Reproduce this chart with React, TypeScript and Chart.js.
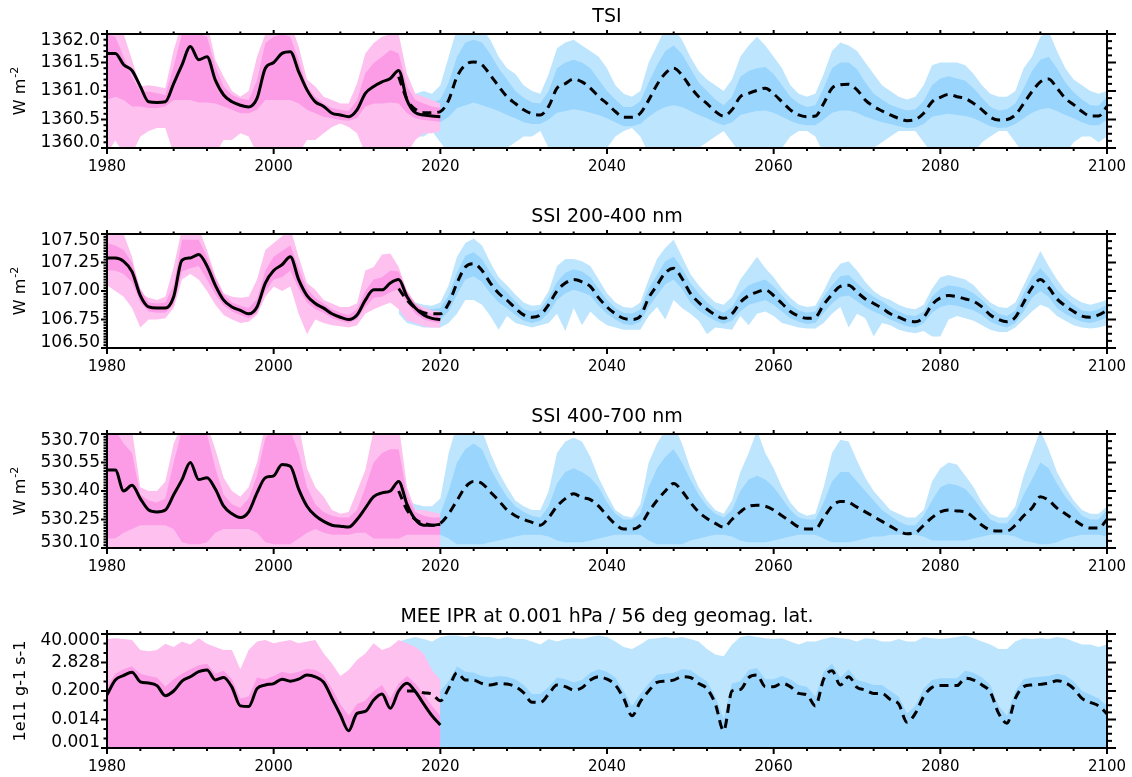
import React, { useEffect, useRef } from 'react';
import { Chart, registerables } from 'chart.js';

Chart.register(...registerables);

const seq = (a: number, b: number, step = 1) => {
  const out: number[] = [];
  for (let v = a; v <= b; v += step) out.push(v);
  return out;
};

// ---------- categories ----------
const HIST_YEARS = seq(1980, 2020);
const FUT_YEARS = seq(2015, 2100);
const X_LABEL_YEARS = seq(1980, 2100, 20);

// ---------- TSI ----------
const TSI_HIST = [
  1361.66, 1361.66, 1361.46, 1361.36, 1361.08, 1360.81, 1360.80, 1360.81, 1361.13, 1361.46,
  1361.78, 1361.55, 1361.60, 1361.19, 1360.93, 1360.81, 1360.75, 1360.72, 1360.87, 1361.40,
  1361.50, 1361.66, 1361.69, 1361.34, 1361.02, 1360.81, 1360.73, 1360.61, 1360.58, 1360.55,
  1360.67, 1360.96, 1361.08, 1361.16, 1361.22, 1361.36, 1360.84, 1360.62, 1360.58, 1360.56,
  1360.55,
];
const TSI_FUT = [
  1361.25, 1360.85, 1360.68, 1360.62, 1360.62,
  1360.64, 1360.84, 1361.25, 1361.46, 1361.51, 1361.46, 1361.28, 1361.08, 1360.90, 1360.78,
  1360.67, 1360.60, 1360.58, 1360.73, 1361.05, 1361.13, 1361.21, 1361.16, 1361.05, 1360.90,
  1360.78, 1360.64, 1360.54, 1360.54, 1360.61, 1360.84, 1361.11, 1361.31, 1361.40, 1361.28,
  1361.07, 1360.90, 1360.78, 1360.64, 1360.56, 1360.67, 1360.90, 1360.96, 1361.01, 1361.05,
  1360.95, 1360.81, 1360.67, 1360.58, 1360.55, 1360.56, 1360.78, 1361.05, 1361.11, 1361.12,
  1361.02, 1360.84, 1360.73, 1360.65, 1360.58, 1360.52, 1360.48, 1360.50, 1360.61, 1360.81,
  1360.89, 1360.94, 1360.90, 1360.87, 1360.78, 1360.67, 1360.54, 1360.49, 1360.50, 1360.58,
  1360.78, 1360.99, 1361.16, 1361.21, 1361.05, 1360.87, 1360.76, 1360.64, 1360.56, 1360.56,
  1360.73,
];
const TSI_PINK_HI = [
  1362.2, 1362.2, 1362.0, 1361.55, 1361.08, 1361.1, 1361.08, 1361.05, 1361.72, 1362.2,
  1362.2, 1362.2, 1362.2, 1361.55, 1361.25, 1361.0, 1360.9, 1361.0, 1361.6, 1362.0,
  1362.2, 1362.2, 1362.2, 1361.78, 1361.2, 1361.08, 1360.9, 1360.84, 1360.78, 1360.78,
  1361.13, 1361.66, 1361.84, 1361.95, 1362.0, 1362.0, 1361.3, 1360.95, 1360.9, 1360.84,
  1360.78,
];
const TSI_PINK_LO = [
  1359.9, 1360.13, 1359.9, 1359.9, 1360.2, 1360.3, 1360.35, 1360.35, 1359.9, 1359.9,
  1359.9, 1359.9, 1359.9, 1359.9, 1360.14, 1360.14, 1360.26, 1360.2, 1359.9, 1359.9,
  1359.9, 1359.9, 1359.9, 1359.9, 1360.14, 1360.14, 1360.26, 1360.37, 1360.43, 1360.37,
  1360.26, 1359.9, 1359.9, 1359.9, 1359.9, 1359.9, 1359.9, 1360.14, 1360.26, 1360.26,
  1360.3,
];
const TSI_PINK_CORE_HI = [
  1362.0, 1361.95, 1361.6, 1361.25, 1360.99, 1360.99, 1360.96, 1360.93, 1361.43, 1362.0,
  1362.0, 1362.0, 1361.95, 1361.43, 1361.08, 1360.93, 1360.87, 1360.84, 1361.19, 1361.84,
  1361.95, 1362.0, 1361.95, 1361.54, 1361.08, 1360.9, 1360.78, 1360.7, 1360.67, 1360.65,
  1360.84, 1361.31, 1361.49, 1361.6, 1361.72, 1361.66, 1361.08, 1360.84, 1360.78, 1360.73,
  1360.7,
];
const TSI_PINK_CORE_LO = [
  1360.84, 1360.9, 1360.84, 1360.73, 1360.73, 1360.7, 1360.7, 1360.73, 1360.84, 1360.84,
  1360.84, 1360.8, 1360.8, 1360.78, 1360.73, 1360.67, 1360.61, 1360.61, 1360.67, 1360.84,
  1360.84, 1360.84, 1360.84, 1360.78, 1360.67, 1360.61, 1360.55, 1360.52, 1360.49, 1360.48,
  1360.52, 1360.73, 1360.78, 1360.78, 1360.8, 1360.78, 1360.61, 1360.52, 1360.49, 1360.48,
  1360.46,
];
const TSI_BLUE_HI = [
  1361.3, 1361.0, 1360.95, 1361.0, 1360.95,
  1361.1, 1361.6, 1362.1, 1362.1, 1362.1, 1362.1, 1361.9, 1361.6, 1361.4, 1361.3,
  1361.1, 1361.0, 1360.95, 1361.3, 1361.75, 1361.85, 1361.9, 1361.8, 1361.7, 1361.6,
  1361.4, 1361.1, 1360.95, 1360.9, 1361.0, 1361.5, 1361.8, 1362.1, 1362.1, 1361.9,
  1361.6, 1361.35, 1361.2, 1361.1, 1361.0, 1361.2, 1361.6, 1361.8, 1361.95, 1361.8,
  1361.6, 1361.4, 1361.1, 1360.95, 1360.9, 1360.95, 1361.3, 1361.7, 1361.85, 1361.8,
  1361.7, 1361.5, 1361.3, 1361.1, 1361.0, 1360.9, 1360.85, 1360.9, 1361.1, 1361.45,
  1361.5, 1361.5, 1361.5, 1361.45, 1361.3, 1361.1, 1360.95, 1360.9, 1360.9, 1361.0,
  1361.4, 1361.6, 1361.95, 1362.05, 1361.7, 1361.4, 1361.2, 1361.1, 1361.0, 1360.95,
  1361.0,
];
const TSI_BLUE_LO = [
  1359.9, 1360.1, 1360.2, 1360.2, 1360.3,
  1360.1, 1359.9, 1359.9, 1359.9, 1359.9, 1359.9, 1359.9, 1359.9, 1360.0, 1360.1,
  1360.2, 1360.2, 1360.3, 1360.0, 1359.9, 1359.9, 1359.9, 1359.9, 1359.9, 1359.9,
  1360.0, 1360.2, 1360.3, 1360.35, 1360.2, 1359.9, 1359.9, 1359.9, 1359.9, 1359.9,
  1359.9, 1360.0, 1360.1, 1360.2, 1360.3, 1360.1, 1359.9, 1359.9, 1359.9, 1359.9,
  1359.9, 1360.0, 1360.2, 1360.3, 1360.3, 1360.2, 1359.9, 1359.9, 1359.9, 1359.9,
  1359.9, 1359.9, 1360.0, 1360.1, 1360.2, 1360.3, 1360.3, 1360.3, 1360.1, 1359.9,
  1359.9, 1359.9, 1359.9, 1359.9, 1359.9, 1360.1, 1360.2, 1360.3, 1360.3, 1360.1,
  1359.9, 1359.9, 1359.9, 1359.9, 1359.9, 1359.9, 1360.1, 1360.2, 1360.2, 1360.1,
  1360.2,
];
const TSI_BLUE_CORE_HI = [
  1361.3, 1361.0, 1360.85, 1360.8, 1360.8,
  1360.85, 1361.15, 1361.6, 1361.85, 1361.9, 1361.85, 1361.65, 1361.4, 1361.2, 1361.0,
  1360.88, 1360.8, 1360.78, 1361.0, 1361.4, 1361.5, 1361.55, 1361.5, 1361.4, 1361.2,
  1361.0, 1360.85, 1360.72, 1360.72, 1360.82, 1361.15, 1361.45, 1361.7, 1361.8, 1361.65,
  1361.4, 1361.15, 1361.0, 1360.85, 1360.75, 1360.9, 1361.25, 1361.35, 1361.4, 1361.42,
  1361.3, 1361.1, 1360.9, 1360.78, 1360.72, 1360.75, 1361.05, 1361.4, 1361.5, 1361.5,
  1361.38, 1361.15, 1360.95, 1360.85, 1360.76, 1360.7, 1360.66, 1360.68, 1360.82, 1361.1,
  1361.22, 1361.26, 1361.22, 1361.18, 1361.05, 1360.88, 1360.72, 1360.66, 1360.68, 1360.78,
  1361.05, 1361.35, 1361.55, 1361.6, 1361.4, 1361.15, 1360.98, 1360.85, 1360.75, 1360.74,
  1360.9,
];
const TSI_BLUE_CORE_LO = [
  1360.55, 1360.55, 1360.48, 1360.45, 1360.45,
  1360.45, 1360.55, 1360.7, 1360.75, 1360.8, 1360.75, 1360.7, 1360.65, 1360.58, 1360.52,
  1360.45, 1360.42, 1360.42, 1360.5, 1360.62, 1360.65, 1360.68, 1360.66, 1360.62, 1360.58,
  1360.52, 1360.45, 1360.38, 1360.38, 1360.42, 1360.55, 1360.65, 1360.72, 1360.75, 1360.72,
  1360.65, 1360.58, 1360.52, 1360.45, 1360.4, 1360.45, 1360.58, 1360.62, 1360.65, 1360.66,
  1360.62, 1360.55, 1360.48, 1360.42, 1360.4, 1360.4, 1360.5, 1360.62, 1360.66, 1360.66,
  1360.62, 1360.55, 1360.5, 1360.45, 1360.42, 1360.38, 1360.35, 1360.36, 1360.42, 1360.55,
  1360.58, 1360.6, 1360.58, 1360.56, 1360.52, 1360.45, 1360.38, 1360.35, 1360.36, 1360.42,
  1360.52, 1360.62, 1360.68, 1360.7, 1360.65, 1360.58, 1360.52, 1360.45, 1360.4, 1360.4,
  1360.5,
];

// ---------- SSI 200-400 nm ----------
const UV_HIST = [
  107.29, 107.29, 107.26, 107.17, 106.96, 106.86, 106.85, 106.85, 106.95, 107.27,
  107.29, 107.32, 107.22, 107.05, 106.92, 106.86, 106.83, 106.80, 106.86, 107.07,
  107.18, 107.23, 107.30, 107.10, 106.96, 106.89, 106.85, 106.80, 106.77, 106.75,
  106.79, 106.92, 107.01, 107.01, 107.07, 107.10, 106.95, 106.85, 106.79, 106.76,
  106.75,
];
const UV_FUT = [
  107.02, 106.92, 106.85, 106.81, 106.80,
  106.80, 106.89, 107.07, 107.21, 107.24, 107.18, 107.07, 106.98, 106.92, 106.85,
  106.79, 106.77, 106.79, 106.88, 107.00, 107.07, 107.10, 107.08, 107.04, 106.94,
  106.86, 106.80, 106.76, 106.75, 106.78, 106.94, 107.05, 107.16, 107.20, 107.11,
  106.98, 106.90, 106.84, 106.79, 106.76, 106.80, 106.90, 106.96, 106.99, 107.01,
  106.96, 106.89, 106.82, 106.78, 106.76, 106.77, 106.88, 106.97, 107.04, 107.05,
  106.99, 106.93, 106.89, 106.85, 106.80, 106.77, 106.74, 106.73, 106.77, 106.88,
  106.94, 106.96, 106.95, 106.93, 106.91, 106.86, 106.79, 106.75, 106.73, 106.77,
  106.90, 107.03, 107.10, 107.03, 106.93, 106.87, 106.82, 106.78, 106.77, 106.79,
  106.83,
];
const UV_PINK_HI = [
  107.55, 107.55, 107.5, 107.3, 106.98, 106.94, 106.92, 106.95, 107.21, 107.55,
  107.55, 107.55, 107.36, 107.13, 106.98, 106.95, 106.94, 106.95, 107.1, 107.36,
  107.42, 107.48, 107.55, 107.3, 107.07, 107.01, 106.92, 106.89, 106.86, 106.86,
  106.89, 107.18, 107.21, 107.32, 107.33, 107.21, 107.0, 106.89, 106.86, 106.83,
  106.82,
];
const UV_PINK_LO = [
  107.05, 107.0, 106.95, 106.85, 106.68, 106.75, 106.75, 106.76, 106.85, 107.1,
  107.15, 107.1, 107.0, 106.88, 106.79, 106.75, 106.72, 106.73, 106.79, 106.95,
  107.04, 107.0, 107.04, 106.8, 106.62, 106.75, 106.72, 106.7, 106.69, 106.68,
  106.7, 106.8, 106.84, 106.87, 106.9, 106.84, 106.74, 106.72, 106.69, 106.68,
  106.68,
];
const UV_PINK_CORE_HI = [
  107.42, 107.4, 107.36, 107.25, 107.02, 106.9, 106.89, 106.9, 107.05, 107.45,
  107.45, 107.45, 107.3, 107.12, 106.97, 106.9, 106.87, 106.85, 106.93, 107.18,
  107.3, 107.35, 107.4, 107.2, 107.02, 106.94, 106.89, 106.84, 106.81, 106.79,
  106.84, 107.0, 107.1, 107.12, 107.18, 107.17, 107.0, 106.89, 106.83, 106.8,
  106.79,
];
const UV_PINK_CORE_LO = [
  107.18, 107.18, 107.15, 107.08, 106.9, 106.82, 106.81, 106.81, 106.88, 107.17,
  107.2, 107.22, 107.1, 106.97, 106.87, 106.82, 106.79, 106.76, 106.81, 107.0,
  107.1, 107.12, 107.18, 107.02, 106.9, 106.84, 106.81, 106.76, 106.74, 106.72,
  106.75, 106.86, 106.94, 106.95, 106.99, 107.02, 106.9, 106.8, 106.75, 106.73,
  106.72,
];
const UV_BLUE_HI = [
  107.15, 106.98, 106.9, 106.88, 106.87,
  106.9, 107.05, 107.3, 107.42, 107.46, 107.4, 107.25, 107.12, 107.05, 106.97,
  106.9, 106.87, 106.88, 107.0, 107.22, 107.28, 107.28, 107.26, 107.22, 107.1,
  106.98, 106.9, 106.86, 106.85, 106.9, 107.1, 107.28, 107.38, 107.45, 107.3,
  107.15, 107.05, 106.97, 106.9, 106.88, 106.95, 107.1, 107.2, 107.3, 107.2,
  107.12, 107.02, 106.94, 106.88, 106.86, 106.87, 107.0, 107.15, 107.24, 107.26,
  107.18, 107.08, 107.0, 106.95, 106.92, 106.88, 106.85, 106.84, 106.88, 107.02,
  107.12, 107.14, 107.12, 107.1, 107.05, 106.97, 106.9, 106.86, 106.85, 106.9,
  107.05, 107.2, 107.35, 107.22, 107.1, 107.0, 106.94, 106.9, 106.88, 106.9,
  106.92,
];
const UV_BLUE_LO = [
  106.8, 106.72, 106.7, 106.68, 106.68,
  106.68, 106.72, 106.8, 106.92, 106.92, 106.88, 106.78, 106.66, 106.78, 106.72,
  106.7, 106.68, 106.7, 106.72, 106.8, 106.65, 106.85, 106.7, 106.82, 106.75,
  106.7, 106.68, 106.66, 106.66, 106.66, 106.78, 106.86, 106.75, 106.92, 106.85,
  106.8, 106.74, 106.62, 106.68, 106.67, 106.66, 106.78, 106.7, 106.8, 106.82,
  106.78, 106.72, 106.7, 106.68, 106.67, 106.67, 106.72, 106.8, 106.86, 106.68,
  106.8, 106.76, 106.6, 106.72, 106.7, 106.66, 106.64, 106.63, 106.65, 106.6,
  106.6, 106.75, 106.78, 106.76, 106.74, 106.7, 106.66, 106.64, 106.64, 106.68,
  106.75, 106.82, 106.88, 106.85, 106.78, 106.74, 106.7, 106.68, 106.67, 106.68,
  106.7,
];
const UV_BLUE_CORE_HI = [
  107.08, 106.97, 106.89, 106.85, 106.84,
  106.85, 106.96, 107.16, 107.31, 107.34, 107.28, 107.16, 107.06, 106.99, 106.91,
  106.84, 106.82, 106.84, 106.94, 107.08, 107.16, 107.19, 107.17, 107.12, 107.02,
  106.92, 106.85, 106.81, 106.8, 106.84, 107.02, 107.14, 107.26, 107.3, 107.2,
  107.07, 106.98, 106.9, 106.84, 106.81, 106.86, 106.98, 107.05, 107.08, 107.1,
  107.04, 106.96, 106.88, 106.83, 106.81, 106.82, 106.95, 107.05, 107.13, 107.14,
  107.07, 107.0, 106.95, 106.91, 106.86, 106.82, 106.79, 106.78, 106.82, 106.95,
  107.02, 107.05, 107.04, 107.02, 106.98, 106.92, 106.85, 106.8, 106.78, 106.83,
  106.98, 107.12, 107.2, 107.12, 107.01, 106.94, 106.88, 106.83, 106.82, 106.84,
  106.88,
];
const UV_BLUE_CORE_LO = [
  106.94, 106.86, 106.8, 106.76, 106.75,
  106.75, 106.82, 106.97, 107.1, 107.13, 107.08, 106.98, 106.9, 106.85, 106.79,
  106.74, 106.72, 106.74, 106.81, 106.92, 106.98, 107.01, 106.99, 106.96, 106.87,
  106.8, 106.75, 106.71, 106.7, 106.73, 106.86, 106.96, 107.06, 107.1, 107.02,
  106.9, 106.83, 106.78, 106.74, 106.71, 106.74, 106.82, 106.88, 106.9, 106.92,
  106.88, 106.82, 106.76, 106.73, 106.71, 106.72, 106.81, 106.89, 106.95, 106.96,
  106.91, 106.86, 106.82, 106.79, 106.75, 106.72, 106.69, 106.68, 106.72, 106.81,
  106.86, 106.88, 106.87, 106.85, 106.83, 106.79, 106.73, 106.7, 106.68, 106.72,
  106.82, 106.94, 107.0, 106.95, 106.85, 106.8, 106.76, 106.73, 106.72, 106.74,
  106.77,
];

// ---------- SSI 400-700 nm ----------
const VIS_HIST = [
  530.51, 530.51, 530.40, 530.43, 530.36, 530.30, 530.29, 530.30, 530.38, 530.46,
  530.55, 530.46, 530.47, 530.41, 530.32, 530.28, 530.26, 530.29, 530.39, 530.47,
  530.48, 530.54, 530.53, 530.41, 530.32, 530.27, 530.24, 530.22, 530.215, 530.21,
  530.25, 530.31, 530.37, 530.39, 530.40, 530.45, 530.33, 530.25, 530.22, 530.22,
  530.225,
];
const VIS_FUT = [
  530.40, 530.30, 530.25, 530.23, 530.22,
  530.23, 530.28, 530.35, 530.42, 530.45, 530.44, 530.395, 530.35, 530.30, 530.27,
  530.25, 530.235, 530.22, 530.26, 530.32, 530.36, 530.385, 530.365, 530.355, 530.32,
  530.27, 530.225, 530.20, 530.20, 530.22, 530.29, 530.35, 530.40, 530.44, 530.40,
  530.34, 530.29, 530.255, 530.23, 530.21, 530.25, 530.29, 530.32, 530.325, 530.32,
  530.30, 530.27, 530.24, 530.21, 530.20, 530.20, 530.26, 530.32, 530.345, 530.34,
  530.315, 530.29, 530.265, 530.24, 530.215, 530.19, 530.175, 530.18, 530.22, 530.26,
  530.29, 530.30, 530.295, 530.29, 530.26, 530.22, 530.195, 530.19, 530.19, 530.22,
  530.27, 530.31, 530.37, 530.35, 530.31, 530.28, 530.25, 530.22, 530.205, 530.205,
  530.25,
];
const VIS_PINK_HI = [
  530.75, 530.75, 530.75, 530.72, 530.42, 530.40, 530.40, 530.45, 530.65, 530.75,
  530.75, 530.75, 530.75, 530.62, 530.47, 530.40, 530.37, 530.42, 530.55, 530.75,
  530.75, 530.75, 530.75, 530.75, 530.52, 530.42, 530.37, 530.30, 530.28, 530.29,
  530.40, 530.51, 530.72, 530.75, 530.75, 530.75, 530.42, 530.30, 530.30, 530.29,
  530.28,
];
const VIS_PINK_CORE_HI = [
  530.72, 530.72, 530.65, 530.6, 530.38, 530.35, 530.34, 530.36, 530.55, 530.72,
  530.72, 530.72, 530.7, 530.52, 530.38, 530.33, 530.31, 530.36, 530.48, 530.68,
  530.72, 530.72, 530.72, 530.6, 530.42, 530.33, 530.29, 530.27, 530.26, 530.26,
  530.3, 530.42, 530.55, 530.6, 530.62, 530.62, 530.38, 530.29, 530.27, 530.26,
  530.26,
];
const VIS_PINK_CORE_LO = [
  530.15, 530.15, 530.18, 530.2, 530.22, 530.22, 530.22, 530.22, 530.2, 530.13,
  530.12, 530.12, 530.13, 530.18, 530.2, 530.2, 530.2, 530.2, 530.18, 530.13,
  530.12, 530.12, 530.12, 530.15, 530.18, 530.2, 530.18, 530.17, 530.17, 530.17,
  530.18, 530.18, 530.15, 530.15, 530.15, 530.15, 530.17, 530.17, 530.17, 530.17,
  530.17,
];
const VIS_BLUE_HI = [
  530.45, 530.35, 530.33, 530.32, 530.32,
  530.36, 530.6, 530.75, 530.75, 530.75, 530.72, 530.6, 530.5, 530.42, 530.35,
  530.32, 530.3, 530.3, 530.4, 530.6, 530.66, 530.68, 530.66, 530.58, 530.47,
  530.38, 530.3, 530.27, 530.26, 530.33, 530.55, 530.65, 530.72, 530.75, 530.65,
  530.52, 530.42, 530.35, 530.3, 530.28, 530.35, 530.5, 530.6, 530.72, 530.6,
  530.52, 530.42, 530.34, 530.29, 530.27, 530.28, 530.42, 530.6, 530.67, 530.66,
  530.56, 530.47, 530.4, 530.35, 530.3, 530.28, 530.26, 530.26, 530.3, 530.45,
  530.52, 530.55, 530.54, 530.48, 530.42, 530.34, 530.28, 530.26, 530.26, 530.32,
  530.48, 530.6, 530.72, 530.62, 530.5, 530.42, 530.35, 530.3, 530.28, 530.28,
  530.32,
];
const VIS_BLUE_CORE_HI = [
  530.4, 530.3, 530.27, 530.26, 530.26,
  530.28, 530.4, 530.55, 530.62, 530.65, 530.62, 530.52, 530.44, 530.37, 530.32,
  530.29, 530.27, 530.26, 530.32, 530.44, 530.5, 530.52, 530.5, 530.47, 530.42,
  530.34, 530.28, 530.25, 530.25, 530.28, 530.42, 530.52, 530.58, 530.62, 530.55,
  530.46, 530.38, 530.32, 530.28, 530.26, 530.3, 530.4, 530.46, 530.48, 530.46,
  530.42, 530.36, 530.3, 530.26, 530.25, 530.25, 530.34, 530.45, 530.5, 530.5,
  530.45, 530.4, 530.35, 530.3, 530.27, 530.24, 530.22, 530.22, 530.27, 530.35,
  530.42, 530.44, 530.43, 530.41, 530.36, 530.3, 530.25, 530.23, 530.23, 530.28,
  530.38, 530.46, 530.55, 530.52, 530.44, 530.37, 530.32, 530.27, 530.25, 530.25,
  530.3,
];
const VIS_BLUE_CORE_LO = [
  530.15, 530.16, 530.17, 530.17, 530.17,
  530.17, 530.15, 530.12, 530.12, 530.12, 530.12, 530.13, 530.14, 530.15, 530.16,
  530.17, 530.17, 530.17, 530.16, 530.14, 530.13, 530.13, 530.13, 530.14, 530.15,
  530.16, 530.17, 530.17, 530.17, 530.17, 530.14, 530.12, 530.12, 530.12, 530.12,
  530.14, 530.15, 530.16, 530.17, 530.17, 530.16, 530.14, 530.13, 530.13, 530.13,
  530.14, 530.15, 530.16, 530.17, 530.17, 530.17, 530.15, 530.13, 530.13, 530.13,
  530.14, 530.15, 530.16, 530.16, 530.17, 530.17, 530.17, 530.17, 530.16, 530.14,
  530.14, 530.14, 530.14, 530.14, 530.15, 530.16, 530.17, 530.17, 530.17, 530.16,
  530.14, 530.13, 530.12, 530.12, 530.13, 530.15, 530.16, 530.17, 530.17, 530.17,
  530.16,
];

// ---------- MEE IPR ----------
const MEE_HIST = [
  0.14, 0.56, 0.85, 1.15, 0.47, 0.42, 0.33, 0.13, 0.2, 0.5,
  0.75, 1.2, 1.4, 0.56, 0.7, 0.28, 0.05, 0.047, 0.25, 0.35,
  0.4, 0.6, 0.5, 0.6, 0.88, 0.75, 0.45, 0.1, 0.022, 0.005,
  0.025, 0.03, 0.087, 0.15, 0.04, 0.2, 0.41, 0.19, 0.06, 0.02,
  0.0085,
];
const MEE_FUT = [
  null, 0.2, 0.2, 0.17, 0.15,
  0.08, 0.26, 1.1, 0.56, 0.55, 0.4, 0.35, 0.4, 0.38, 0.3,
  0.17, 0.07, 0.07, 0.15, 0.35, 0.3, 0.22, 0.27, 0.55, 0.75,
  0.6, 0.35, 0.1, 0.02, 0.074, 0.2, 0.45, 0.5, 0.55, 0.75,
  0.7, 0.4, 0.25, 0.06, 0.005, 0.2, 0.23, 0.7, 0.88, 0.3,
  0.3, 0.41, 0.3, 0.16, 0.14, 0.05, 0.6, 1.3, 0.35, 0.75,
  0.28, 0.22, 0.16, 0.16, 0.09, 0.06, 0.011, 0.025, 0.12, 0.28,
  0.33, 0.33, 0.33, 0.65, 0.55, 0.35, 0.18, 0.025, 0.01, 0.1,
  0.3, 0.35, 0.37, 0.41, 0.52, 0.43, 0.25, 0.1, 0.07, 0.05,
  0.024,
];
const MEE_PINK_HI = [
  25, 27, 25, 23, 9, 8, 9, 16, 12, 20,
  15, 27, 16, 12, 9, 9, 1.5, 9, 20, 23,
  17, 20, 23, 17, 20, 23, 6.6, 2.6, 0.8, 1.4,
  3.6, 6.6, 17, 9, 12, 23, 17, 12, 6.6, 1.4,
  0.56,
];
const MEE_PINK_CORE_HI = [
  0.3, 1.0, 1.5, 2.0, 1.0, 0.8, 0.7, 0.3, 0.6, 1.0,
  1.5, 2.2, 2.5, 1.0, 1.3, 0.6, 0.1, 0.12, 0.7, 0.6,
  0.8, 1.2, 1.0, 1.2, 1.6, 1.4, 0.9, 0.25, 0.06, 0.02,
  0.06, 0.08, 0.2, 0.35, 0.1, 0.4, 0.8, 0.4, 0.15, 0.05,
  0.02,
];
const MEE_BLUE_HI = [
  20, 25, 30, 25, 20,
  30, 35, 35, 30, 35, 30, 30, 25, 30, 25,
  25, 20, 15, 25, 20, 25, 27, 25, 30, 35,
  30, 20, 12, 10, 15, 25, 27, 30, 27, 30,
  25, 20, 10, 6, 5, 15, 30, 35, 30, 27,
  25, 27, 20, 15, 20, 20, 25, 30, 27, 25,
  20, 27, 25, 20, 20, 25, 20, 20, 30, 27,
  25, 27, 30, 35, 27, 20, 15, 10, 10, 20,
  27, 25, 27, 25, 30, 27, 20, 15, 15, 12,
  15,
];
const MEE_BLUE_CORE_HI = [
  0.3, 0.4, 0.4, 0.35, 0.3,
  0.2, 0.5, 2.0, 1.2, 1.1, 0.8, 0.7, 0.8, 0.75, 0.6,
  0.35, 0.15, 0.15, 0.3, 0.7, 0.6, 0.45, 0.55, 1.1, 1.5,
  1.2, 0.7, 0.2, 0.05, 0.15, 0.4, 0.9, 1.0, 1.1, 1.5,
  1.4, 0.8, 0.5, 0.12, 0.015, 0.4, 0.5, 1.4, 1.7, 0.6,
  0.6, 0.8, 0.6, 0.35, 0.3, 0.12, 1.2, 2.5, 0.7, 1.5,
  0.55, 0.45, 0.35, 0.35, 0.2, 0.12, 0.025, 0.05, 0.25, 0.55,
  0.65, 0.65, 0.65, 1.3, 1.1, 0.7, 0.35, 0.05, 0.02, 0.2,
  0.6, 0.7, 0.75, 0.8, 1.0, 0.85, 0.5, 0.2, 0.14, 0.1,
  0.05,
];

// ---------- axis tick values / labels ----------
const TSI_TICKS = [1360.0, 1360.5, 1361.0, 1361.5, 1362.0];
const TSI_LABELS = ['1360.0', '1360.5', '1361.0', '1361.5', '1362.0'];
const UV_TICKS = [106.5, 106.75, 107.0, 107.25, 107.5];
const UV_LABELS = ['106.50', '106.75', '107.00', '107.25', '107.50'];
const VIS_TICKS = [530.1, 530.25, 530.4, 530.55, 530.7];
const VIS_LABELS = ['530.10', '530.25', '530.40', '530.55', '530.70'];
const MEE_TICKS = [0.001, 0.014142, 0.2, 2.8284, 40];
const MEE_LABELS = ['0.001', '0.014', '0.200', '2.828', '40.000'];

const PINK = 'rgb(252,156,230)';
const PINK_FRINGE = 'rgb(253,192,239)';
const BLUE = 'rgb(153,213,253)';
const BLUE_FRINGE = 'rgb(190,229,254)';
const FONT = "'DejaVu Sans', 'Noto Sans', sans-serif";

type Arr = (number | null)[];
type PanelSpec = {
  title: string;
  yTitle: string;
  yTitleSup?: string;
  log?: boolean;
  yMin: number;
  yMax: number;
  ticks: number[];
  labels: string[];
  leftDiv: number;
  rightDiv: number;
  hist: Arr;
  fut: Arr;
  pinkHi: Arr; pinkLo: Arr | null; pinkCoreHi: Arr; pinkCoreLo: Arr | null;
  blueHi: Arr; blueLo: Arr | null; blueCoreHi: Arr; blueCoreLo: Arr | null;
};

const PANELS: PanelSpec[] = [
  {
    title: 'TSI', yTitle: 'W m', yTitleSup: '-2', yMin: 1360, yMax: 1362,
    ticks: TSI_TICKS, labels: TSI_LABELS, leftDiv: 5, rightDiv: 4,
    hist: TSI_HIST, fut: TSI_FUT,
    pinkHi: TSI_PINK_HI, pinkLo: TSI_PINK_LO, pinkCoreHi: TSI_PINK_CORE_HI, pinkCoreLo: TSI_PINK_CORE_LO,
    blueHi: TSI_BLUE_HI, blueLo: TSI_BLUE_LO, blueCoreHi: TSI_BLUE_CORE_HI, blueCoreLo: TSI_BLUE_CORE_LO,
  },
  {
    title: 'SSI 200-400 nm', yTitle: 'W m', yTitleSup: '-2', yMin: 106.5, yMax: 107.5,
    ticks: UV_TICKS, labels: UV_LABELS, leftDiv: 10, rightDiv: 4,
    hist: UV_HIST, fut: UV_FUT,
    pinkHi: UV_PINK_HI, pinkLo: UV_PINK_LO, pinkCoreHi: UV_PINK_CORE_HI, pinkCoreLo: UV_PINK_CORE_LO,
    blueHi: UV_BLUE_HI, blueLo: UV_BLUE_LO, blueCoreHi: UV_BLUE_CORE_HI, blueCoreLo: UV_BLUE_CORE_LO,
  },
  {
    title: 'SSI 400-700 nm', yTitle: 'W m', yTitleSup: '-2', yMin: 530.1, yMax: 530.7,
    ticks: VIS_TICKS, labels: VIS_LABELS, leftDiv: 10, rightDiv: 4,
    hist: VIS_HIST, fut: VIS_FUT,
    pinkHi: VIS_PINK_HI, pinkLo: null, pinkCoreHi: VIS_PINK_CORE_HI, pinkCoreLo: VIS_PINK_CORE_LO,
    blueHi: VIS_BLUE_HI, blueLo: null, blueCoreHi: VIS_BLUE_CORE_HI, blueCoreLo: VIS_BLUE_CORE_LO,
  },
  {
    title: 'MEE IPR at 0.001 hPa / 56 deg geomag. lat.', yTitle: '1e11 g-1 s-1', log: true,
    yMin: 0.001, yMax: 40, ticks: MEE_TICKS, labels: MEE_LABELS, leftDiv: 3, rightDiv: 4,
    hist: MEE_HIST, fut: MEE_FUT,
    pinkHi: MEE_PINK_HI, pinkLo: null, pinkCoreHi: MEE_PINK_CORE_HI, pinkCoreLo: null,
    blueHi: MEE_BLUE_HI, blueLo: null, blueCoreHi: MEE_BLUE_CORE_HI, blueCoreLo: null,
  },
];

const pts = (xs: number[], ys: Arr) => xs.map((x, i) => ({ x, y: ys[i] }));

function band(xs: number[], hi: Arr, lo: Arr | null, color: string, order: number) {
  const base = {
    borderColor: 'rgba(0,0,0,0)', borderWidth: 0, backgroundColor: color,
    pointRadius: 0, tension: 0, order,
  };
  const hiDs: any = { ...base, data: pts(xs, hi), fill: lo ? false : 'start' };
  if (!lo) return [hiDs];
  const loDs: any = { ...base, data: pts(xs, lo), fill: '-1' };
  return [hiDs, loDs];
}

function axesPlugin(p: PanelSpec) {
  return {
    id: 'nclAxes',
    afterDraw(chart: any) {
      const ctx = chart.ctx as CanvasRenderingContext2D;
      const { left, right, top, bottom } = chart.chartArea;
      const xs = chart.scales.x;
      const ys = chart.scales.y;
      ctx.save();
      ctx.strokeStyle = '#000';
      ctx.fillStyle = '#000';
      const seg = (x1: number, y1: number, x2: number, y2: number) => {
        ctx.beginPath(); ctx.moveTo(x1, y1); ctx.lineTo(x2, y2); ctx.stroke();
      };
      // x ticks: minor every 4 years, major every 20
      ctx.lineWidth = 2;
      for (let yr = 1980; yr <= 2100; yr += 4) {
        const px = xs.getPixelForValue(yr);
        const major = (yr - 1980) % 20 === 0;
        seg(px, bottom, px, bottom + (major ? 6 : 3));
        seg(px, top, px, top - (major ? 4 : 2.5));
      }
      // y ticks
      const sub = (a: number, b: number, k: number, n: number) =>
        p.log ? a * Math.pow(b / a, k / n) : a + ((b - a) * k) / n;
      for (let i = 0; i < p.ticks.length; i++) {
        const py = ys.getPixelForValue(p.ticks[i]);
        seg(left, py, left - 6, py);
        seg(right, py, right + 9, py);
        if (i < p.ticks.length - 1) {
          for (let k = 1; k < p.leftDiv; k++) {
            const my = ys.getPixelForValue(sub(p.ticks[i], p.ticks[i + 1], k, p.leftDiv));
            seg(left, my, left - 3.5, my);
          }
          for (let k = 1; k < p.rightDiv; k++) {
            const my = ys.getPixelForValue(sub(p.ticks[i], p.ticks[i + 1], k, p.rightDiv));
            seg(right, my, right + 5, my);
          }
        }
      }
      // frame
      ctx.lineWidth = 2;
      ctx.strokeRect(left, top, right - left, bottom - top);
      // y labels
      ctx.font = `17px ${FONT}`;
      ctx.textAlign = 'right';
      ctx.textBaseline = 'middle';
      for (let i = 0; i < p.ticks.length; i++) {
        let py = ys.getPixelForValue(p.ticks[i]);
        py = Math.min(Math.max(py, top + 7), bottom - 5);
        ctx.fillText(p.labels[i], left - 7, py);
      }
      // x labels
      ctx.font = `15px ${FONT}`;
      ctx.textAlign = 'center';
      for (const yr of X_LABEL_YEARS) {
        ctx.fillText(String(yr), xs.getPixelForValue(yr), bottom + 19);
      }
      // y title (rotated)
      const cy = (top + bottom) / 2;
      ctx.translate(25, cy);
      ctx.rotate(-Math.PI / 2);
      ctx.textAlign = 'left';
      ctx.textBaseline = 'alphabetic';
      const mainFont = `16px ${FONT}`;
      const supFont = `11px ${FONT}`;
      ctx.font = mainFont;
      const w1 = ctx.measureText(p.yTitle).width;
      let w2 = 0;
      if (p.yTitleSup) { ctx.font = supFont; w2 = ctx.measureText(p.yTitleSup).width + 1; }
      const x0 = -(w1 + w2) / 2;
      ctx.font = mainFont;
      ctx.fillText(p.yTitle, x0, 0);
      if (p.yTitleSup) {
        ctx.font = supFont;
        ctx.fillText(p.yTitleSup, x0 + w1 + 1, -7);
      }
      ctx.restore();
    },
  };
}

function PanelChart({ spec, top, height }: { spec: PanelSpec; top: number; height: number }) {
  const ref = useRef<HTMLCanvasElement>(null);
  useEffect(() => {
    const p = spec;
    const lineBase = {
      borderColor: '#000', borderWidth: 3, pointRadius: 0, fill: false,
      cubicInterpolationMode: 'monotone', order: 0, borderCapStyle: 'butt',
    };
    const datasets: any[] = [
      ...band(FUT_YEARS, p.blueHi, p.blueLo, BLUE_FRINGE, 4),
      ...band(FUT_YEARS, p.blueCoreHi, p.blueCoreLo, BLUE, 3),
      ...band(HIST_YEARS, p.pinkHi, p.pinkLo, PINK_FRINGE, 2),
      ...band(HIST_YEARS, p.pinkCoreHi, p.pinkCoreLo, PINK, 1),
      { ...lineBase, data: pts(HIST_YEARS, p.hist) },
      { ...lineBase, data: pts(FUT_YEARS, p.fut), borderDash: [9, 6] },
    ];
    const chart = new Chart(ref.current as HTMLCanvasElement, {
      type: 'line',
      data: { datasets },
      options: {
        responsive: false,
        animation: false,
        devicePixelRatio: 1,
        events: [],
        layout: { padding: { left: 107, right: 25, top: 0, bottom: height - 148 } },
        plugins: {
          legend: { display: false },
          tooltip: { enabled: false },
          title: {
            display: true,
            text: p.title,
            color: '#000',
            font: { family: FONT, size: 19, weight: 'normal', lineHeight: 1.2 },
            padding: { top: 6, bottom: 5.2 },
          },
        },
        scales: {
          x: { type: 'linear', min: 1980, max: 2100, display: false },
          y: { type: p.log ? 'logarithmic' : 'linear', min: p.yMin, max: p.yMax, display: false },
        },
      } as any,
      plugins: [axesPlugin(p)],
    });
    return () => chart.destroy();
  }, [spec, height]);
  return (
    <canvas
      ref={ref}
      width={1132}
      height={height}
      style={{ position: 'absolute', left: 0, top, width: 1132, height }}
    />
  );
}

export default function App() {
  return (
    <div
      style={{
        position: 'fixed', left: 0, top: 0, width: 1132, height: 777,
        overflow: 'hidden', background: '#fff',
      }}
    >
      {PANELS.map((p, i) => (
        <PanelChart key={i} spec={p} top={i * 200} height={i === 3 ? 177 : 200} />
      ))}
    </div>
  );
}
